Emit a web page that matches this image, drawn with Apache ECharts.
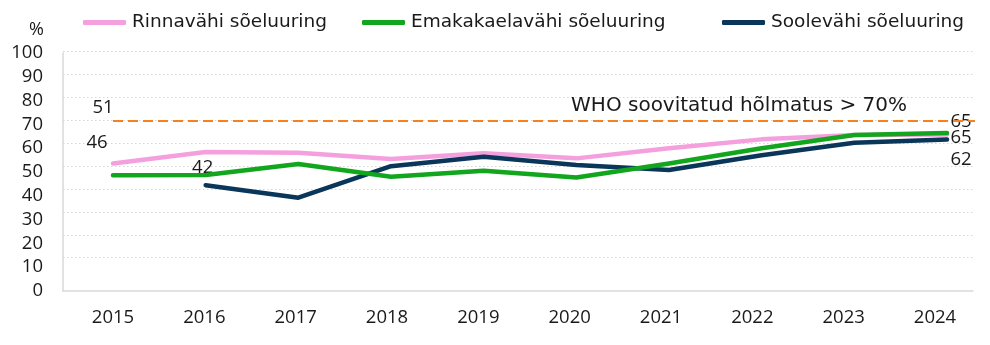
<!DOCTYPE html>
<html>
<head>
<meta charset="utf-8">
<script src="https://cdn.jsdelivr.net/npm/echarts@6/dist/echarts.min.js"></script>
<style>
html,body{margin:0;padding:0;background:#fff;}
#c{width:990px;height:345px;}
</style>
</head>
<body>
<div id="c"></div>
<script>
const years = [2015, 2016, 2017, 2018, 2019, 2020, 2021, 2022, 2023, 2024];
const yearLabels = ['2015','2016','2017','2018','2019','2020','2021','2022','2023','2024'];
const rinna = [51.2, 56.2, 55.9, 53.1, 55.6, 53.4, 57.8, 61.7, 63.6, 63.8];
const emakakaela = [46, 46.1, 50.9, 45.4, 48, 45, 51.2, 57.8, 63.6, 64.5];
const soole = [null, 41.7, 36.2, 50, 54.1, 50.5, 48.3, 54.8, 60.2, 61.6];
const rinnaLabels = ['51','','','','','','','','','65'];
const emakakaelaLabels = ['46','','','','','','','','','65'];
const sooleLabels = ['','42','','','','','','','','62'];
const yTicks = [0,10,20,30,40,50,60,70,80,90,100];
const whoTarget = 70;
const whoText = 'WHO soovitatud hõlmatus > 70%';
const names = ['Rinnavähi sõeluuring', 'Emakakaelavähi sõeluuring', 'Soolevähi sõeluuring'];
const colors = ['#F5A0DE', '#12A51E', '#0A3659'];

const X_MIN = 2014.4605, X_MAX = 2024.302;
const TEXT_FONT = 'DejaVu Sans';
const NUM_FONT = 'Open Sans';

const labelOffsets = {
  0: {0: [-10, -56], 9: [14, -13]},
  1: {0: [-16, -33], 9: [14, 5]},
  2: {1: [-3, -17], 9: [14, 20]}
};

function buildData(vals, labels, si) {
  return years.map((y, i) => {
    const item = { value: [y, vals[i]] };
    if (labels[i]) {
      item.label = {
        show: true,
        formatter: labels[i],
        position: 'inside',
        offset: labelOffsets[si][i],
        color: '#1a1a1a',
        fontFamily: NUM_FONT,
        fontSize: 18.5,
        align: 'center',
        verticalAlign: 'middle'
      };
    }
    return item;
  });
}

const seriesVals = [rinna, emakakaela, soole];
const seriesLabels = [rinnaLabels, emakakaelaLabels, sooleLabels];
const drawOrder = [0, 2, 1];

const series = drawOrder.map(si => ({
  name: names[si],
  type: 'line',
  xAxisIndex: 0,
  yAxisIndex: 0,
  data: buildData(seriesVals[si], seriesLabels[si], si),
  symbol: 'circle',
  symbolSize: 1,
  showSymbol: true,
  itemStyle: { color: colors[si] },
  lineStyle: { width: 4.5, color: colors[si], cap: 'round', join: 'round' },
  connectNulls: false,
  silent: true,
  z: si === 1 ? 4 : (si === 2 ? 3 : 2),
  label: { show: false },
  emphasis: { disabled: true }
}));

series.push({
  name: 'WHO',
  type: 'line',
  xAxisIndex: 0,
  yAxisIndex: 0,
  data: [],
  silent: true,
  markLine: {
    silent: true,
    symbol: ['none', 'none'],
    lineStyle: { color: '#F5821F', type: [10, 5], width: 2 },
    label: {
      show: true,
      position: 'insideEndTop',
      formatter: whoText,
      color: '#1a1a1a',
      fontFamily: TEXT_FONT,
      fontSize: 20,
      padding: [0, 63, 0, 0]
    },
    data: [[{ coord: [years[0], whoTarget] }, { coord: [X_MAX, whoTarget] }]]
  },
  z: 1
});

const legendLefts = [78, 357, 717];
const legends = names.map((n, i) => ({
  data: [{ name: n, icon: 'roundRect', itemStyle: { color: colors[i] } }],
  left: legendLefts[i],
  top: 8,
  itemWidth: 43,
  itemHeight: 5,
  textStyle: { fontFamily: TEXT_FONT, fontSize: 18.5, color: '#1a1a1a', padding: [0, 0, 0, 1] },
  selectedMode: false
}));

const option = {
  animation: false,
  backgroundColor: '#ffffff',
  legend: legends,
  grid: [
    { left: 63, right: 15, top: 51.7, bottom: 64.4 },
    { left: 63, right: 17, top: 53, bottom: 54 },
    { left: 67.3, right: 9.3, top: 53, bottom: 54 }
  ],
  xAxis: [
    { type: 'value', gridIndex: 0, min: X_MIN, max: X_MAX, show: false },
    { type: 'category', gridIndex: 1, data: yearLabels, axisLine: { show: true, lineStyle: { color: '#D9D9D9', width: 1.5 } },
      axisTick: { show: false }, axisLabel: { show: false }, splitLine: { show: false } },
    { type: 'category', gridIndex: 2, data: yearLabels, axisLine: { show: false }, axisTick: { show: false },
      axisLabel: { show: true, margin: 17, color: '#1a1a1a', fontFamily: NUM_FONT, fontSize: 18.5 }, splitLine: { show: false } }
  ],
  yAxis: [
    { type: 'value', gridIndex: 0, min: 0, max: 100, interval: 10,
      axisLine: { show: false }, axisTick: { show: false }, axisLabel: { show: false },
      splitLine: { show: true, showMinLine: false, lineStyle: { color: '#D6D6D6', type: [1.5, 2.5], width: 1 } } },
    { type: 'value', gridIndex: 1, min: 0, max: 100, interval: 10,
      name: '%', nameLocation: 'end', nameGap: 14,
      nameTextStyle: { fontFamily: NUM_FONT, fontSize: 18, color: '#1a1a1a', align: 'right', padding: [0, 19, 0, 0] },
      axisLine: { show: true, lineStyle: { color: '#D9D9D9', width: 1.5 } }, axisTick: { show: false },
      axisLabel: { show: true, margin: 20, color: '#1a1a1a', fontFamily: NUM_FONT, fontSize: 18.5,
        formatter: v => yTicks.indexOf(v) >= 0 ? String(v) : '' },
      splitLine: { show: false } },
    { type: 'value', gridIndex: 2, min: 0, max: 100, show: false }
  ],
  series: series
};

const chart = echarts.init(document.getElementById('c'), null, { renderer: 'canvas' });
chart.setOption(option);
</script>
</body>
</html>
